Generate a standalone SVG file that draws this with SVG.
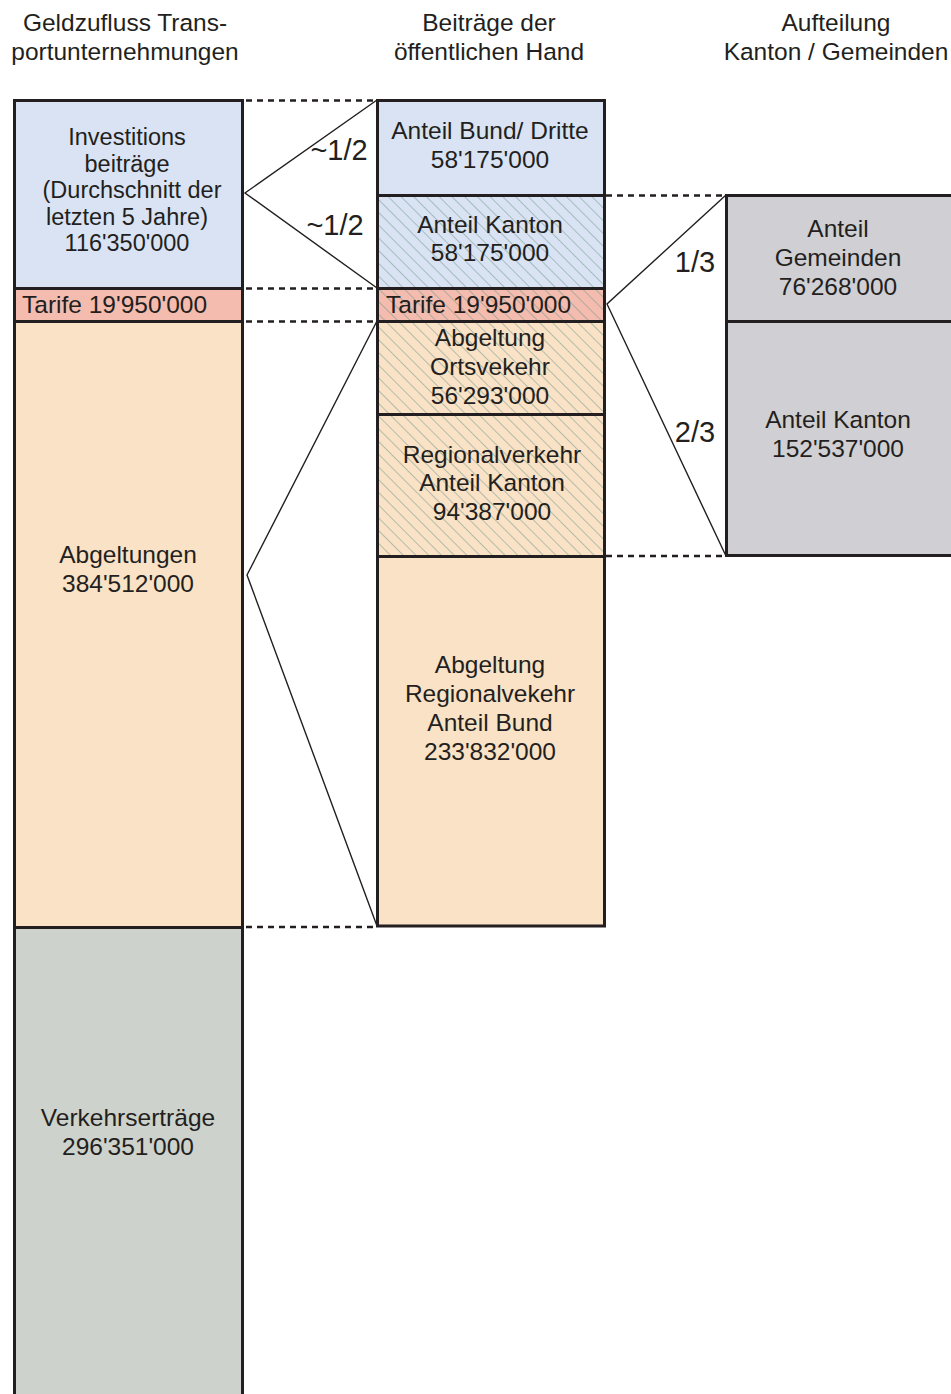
<svg xmlns="http://www.w3.org/2000/svg" width="951" height="1394" viewBox="0 0 951 1394">
<defs>
<pattern id="hatch" patternUnits="userSpaceOnUse" width="9" height="9" patternTransform="rotate(-45)">
<line x1="0" y1="0" x2="0" y2="9" stroke="#6f968c" stroke-width="1"/>
</pattern>
<style>
text{font-family:"Liberation Sans",Arial,sans-serif;fill:#231f20;}
.t{font-size:24.5px;text-anchor:middle;}
.s{font-size:23.5px;text-anchor:middle;}
.h{font-size:24.5px;text-anchor:middle;}
.r{font-size:29px;text-anchor:middle;}
.dv{stroke:#231f20;stroke-width:3;fill:none;}
.dash{stroke:#231f20;stroke-width:2.5;stroke-dasharray:6 5;fill:none;}
.ln{stroke:#231f20;stroke-width:1.4;fill:none;}
</style>
</defs>
<rect width="951" height="1394" fill="#ffffff"/>

<g id="headers">
<text class="h" x="125" y="31">Geldzufluss Trans-</text>
<text class="h" x="125" y="60">portunternehmungen</text>
<text class="h" x="489" y="31">Beiträge der</text>
<text class="h" x="489" y="60">öffentlichen Hand</text>
<text class="h" x="836" y="31">Aufteilung</text>
<text class="h" x="836" y="60">Kanton / Gemeinden</text>
</g>

<g id="left-column">
<g id="invest">
<rect x="14.5" y="100.5" width="228" height="188" fill="#d9e3f3"/>
<text class="s" x="127" y="145">Investitions</text>
<text class="s" x="127" y="171.5">beiträge</text>
<text class="s" x="132" y="198">(Durchschnitt der</text>
<text class="s" x="127" y="224.5">letzten 5 Jahre)</text>
<text class="s" x="127" y="251">116'350'000</text>
</g>
<g id="tarife-left">
<rect x="14.5" y="288.5" width="228" height="33" fill="#f4bcae"/>
<text x="22" y="313" style="font-size:24.5px">Tarife 19'950'000</text>
</g>
<g id="abgeltungen">
<rect x="14.5" y="321.5" width="228" height="606" fill="#f9e2c6"/>
<text class="t" x="128" y="563">Abgeltungen</text>
<text class="t" x="128" y="592">384'512'000</text>
</g>
<g id="verkehr">
<rect x="14.5" y="927.5" width="228" height="470" fill="#cdd2cc"/>
<text class="t" x="128" y="1126">Verkehrserträge</text>
<text class="t" x="128" y="1155">296'351'000</text>
</g>
<path class="dv" d="M14.5 1400 V100.5 H242.5 V1400 M14.5 288.5 H242.5 M14.5 321.5 H242.5 M14.5 927.5 H242.5"/>
</g>

<g id="middle-column">
<g id="bund-dritte">
<rect x="377.5" y="100.5" width="227" height="95" fill="#d9e3f3"/>
<text class="t" x="490" y="139">Anteil Bund/ Dritte</text>
<text class="t" x="490" y="168">58'175'000</text>
</g>
<g id="kanton-mid">
<rect x="377.5" y="195.5" width="227" height="93" fill="#d9e3f3"/>
<rect x="377.5" y="195.5" width="227" height="93" fill="url(#hatch)"/>
<text class="t" x="490" y="233">Anteil Kanton</text>
<text class="t" x="490" y="261">58'175'000</text>
</g>
<g id="tarife-mid">
<rect x="377.5" y="288.5" width="227" height="33" fill="#f4bcae"/>
<rect x="377.5" y="288.5" width="227" height="33" fill="url(#hatch)"/>
<text x="386" y="313" style="font-size:24.5px">Tarife 19'950'000</text>
</g>
<g id="ortsverkehr">
<rect x="377.5" y="321.5" width="227" height="93" fill="#f9e2c6"/>
<rect x="377.5" y="321.5" width="227" height="93" fill="url(#hatch)"/>
<text class="t" x="490" y="346">Abgeltung</text>
<text class="t" x="490" y="375">Ortsvekehr</text>
<text class="t" x="490" y="404">56'293'000</text>
</g>
<g id="regionalverkehr">
<rect x="377.5" y="414.5" width="227" height="142" fill="#f9e2c6"/>
<rect x="377.5" y="414.5" width="227" height="142" fill="url(#hatch)"/>
<text class="t" x="492" y="463">Regionalverkehr</text>
<text class="t" x="492" y="491">Anteil Kanton</text>
<text class="t" x="492" y="520">94'387'000</text>
</g>
<g id="abgeltung-bund">
<rect x="377.5" y="556.5" width="227" height="370" fill="#f9e2c6"/>
<text class="t" x="490" y="673">Abgeltung</text>
<text class="t" x="490" y="702">Regionalvekehr</text>
<text class="t" x="490" y="731">Anteil Bund</text>
<text class="t" x="490" y="760">233'832'000</text>
</g>
<path class="dv" d="M377.5 100.5 H604.5 V926 H377.5 Z M377.5 195.5 H604.5 M377.5 288.5 H604.5 M377.5 321.5 H604.5 M377.5 414.5 H604.5 M377.5 556.5 H604.5"/>
</g>

<g id="right-column">
<g id="gemeinden">
<rect x="726.5" y="195.5" width="230" height="126" fill="#d0cfd4"/>
<text class="t" x="838" y="237">Anteil</text>
<text class="t" x="838" y="266">Gemeinden</text>
<text class="t" x="838" y="295">76'268'000</text>
</g>
<g id="kanton-right">
<rect x="726.5" y="321.5" width="230" height="234" fill="#d0cfd4"/>
<text class="t" x="838" y="428">Anteil Kanton</text>
<text class="t" x="838" y="457">152'537'000</text>
</g>
<path class="dv" d="M956 195.5 H726.5 V555.5 H956 M726.5 321.5 H956"/>
</g>

<g id="connectors">
<path class="dash" d="M246 100.5 H376 M246 288.5 H376 M246 321.5 H376 M246 927 H376 M606 195.5 H725 M606 556 H725"/>
<path class="ln" d="M377 100 L245 193 L377 288"/>
<path class="ln" d="M377 321 L247 575 L377 926"/>
<path class="ln" d="M726 195 L607 304 L726 556"/>
<text class="r" x="339" y="160">~1/2</text>
<text class="r" x="335" y="235">~1/2</text>
<text class="r" x="695" y="272">1/3</text>
<text class="r" x="695" y="442">2/3</text>
</g>
</svg>
